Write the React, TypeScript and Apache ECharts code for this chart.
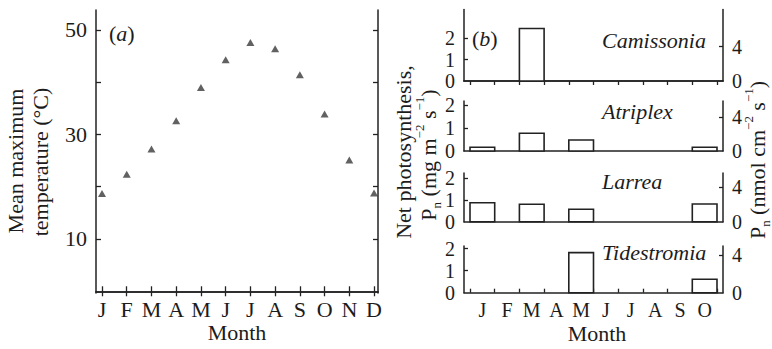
import React, { useEffect, useRef } from 'react';
import * as echarts from 'echarts';

// ---------- data ----------
const monthsA = ['J', 'F', 'M', 'A', 'M', 'J', 'J', 'A', 'S', 'O', 'N', 'D'];
const monthNumsA = [1, 2, 3, 4, 5, 6, 7, 8, 9, 10, 11, 12];
const tempMax = [18.7, 22.4, 27.2, 32.6, 39.0, 44.3, 47.6, 46.4, 41.4, 33.9, 25.1, 18.8];
const tempTicks = [10, 20, 30, 40, 50];
const tempLabels = [10, 30, 50];

const monthsB = ['J', 'F', 'M', 'A', 'M', 'J', 'J', 'A', 'S', 'O'];
const monthNumsB = [1, 2, 3, 4, 5, 6, 7, 8, 9, 10];
const monthBounds = [0.5, 1.5, 2.5, 3.5, 4.5, 5.5, 6.5, 7.5, 8.5, 9.5, 10.5];
const species = ['Camissonia', 'Atriplex', 'Larrea', 'Tidestromia'];
const camissonia = [[3, 2.47]];
const atriplex = [[1, 0.16], [3, 0.77], [5, 0.48], [10, 0.16]];
const larrea = [[1, 0.87], [3, 0.8], [5, 0.57], [10, 0.81]];
const tidestromia = [[5, 1.82], [10, 0.61]];
const pnTicks = [1, 2];
const pnOuterLabels = [0, 2];
const pnMidLabels = [1];
const nmolTicks = [4];
const nmolLabels = [0, 4];

// ---------- layout ----------
const FONT = '"Liberation Serif", "DejaVu Serif", serif';
const INK = '#1c1c1c';
const LINE = '#222';
const FS = 22;
const FSB = 20;

const subLayout = [
  { top: 9.5, bottom: 81, leftMax: 3.36, rightMax: 8.34 },
  { top: 101, bottom: 151, leftMax: 2.17, rightMax: 5.93 },
  { top: 173, bottom: 221.7, leftMax: 2.23, rightMax: 5.66 },
  { top: 246, bottom: 292.7, leftMax: 2.12, rightMax: 4.95 },
];
const bLeft = 464;
const bRight = 723;

const subData = [camissonia, atriplex, larrea, tidestromia];

export default function App() {
  const ref = useRef<HTMLDivElement>(null);

  useEffect(() => {
    if (!ref.current) return;
    const chart = echarts.init(ref.current, undefined, { renderer: 'svg' });

    const axisLineStyle = { show: true, lineStyle: { color: LINE, width: 1.5 } };
    const labelStyle = {
      color: INK, fontFamily: FONT, fontSize: FS,
      showMinLabel: true, showMaxLabel: true, hideOverlap: false,
    };
    const yLabelStyle = { ...labelStyle, lineHeight: 17 };
    const bLabelStyle = { ...labelStyle, fontSize: FSB };
    const byLabelStyle = { ...bLabelStyle, lineHeight: 16 };

    const grids: any[] = [
      { left: 96, top: 10, width: 282, height: 283 },
    ];
    const xAxes: any[] = [
      {
        type: 'value', gridIndex: 0, position: 'bottom', min: 0.757, max: 12.16,
        axisLine: axisLineStyle, splitLine: { show: false },
        axisTick: { show: true, inside: true, length: 5, customValues: monthNumsA, lineStyle: { color: LINE, width: 1.3 } },
        axisLabel: { ...labelStyle, margin: 5, customValues: monthNumsA, formatter: (v: number) => monthsA[Math.round(v) - 1] },
      },
      {
        type: 'value', gridIndex: 0, position: 'top', min: 0.757, max: 12.16,
        axisLine: axisLineStyle, splitLine: { show: false },
        axisTick: { show: true, inside: true, length: 5, customValues: monthNumsA, lineStyle: { color: LINE, width: 1.3 } },
        axisLabel: { show: false },
      },
    ];
    const yAxes: any[] = [
      {
        type: 'value', gridIndex: 0, position: 'left', min: -0.33, max: 53.8,
        axisLine: axisLineStyle, splitLine: { show: false },
        axisTick: { show: true, inside: true, length: 5, customValues: tempTicks, lineStyle: { color: LINE, width: 1.3 } },
        axisLabel: { ...yLabelStyle, margin: 9, customValues: tempLabels },
      },
      {
        type: 'value', gridIndex: 0, position: 'right', min: -0.33, max: 53.8,
        axisLine: axisLineStyle, splitLine: { show: false },
        axisTick: { show: true, inside: true, length: 5, customValues: tempTicks, lineStyle: { color: LINE, width: 1.3 } },
        axisLabel: { show: false },
      },
    ];
    const series: any[] = [
      {
        type: 'scatter', xAxisIndex: 0, yAxisIndex: 0,
        data: monthNumsA.map((m, i) => [m, tempMax[i]]),
        symbol: 'triangle', symbolSize: [8, 7],
        itemStyle: { color: '#3a3a3a' },
      },
    ];

    subLayout.forEach((s, i) => {
      const gi = grids.length;
      grids.push({ left: bLeft, top: s.top, width: bRight - bLeft, height: s.bottom - s.top });
      const isLast = i === subLayout.length - 1;
      const xi = xAxes.length;
      xAxes.push({
        type: 'value', gridIndex: gi, position: 'bottom', min: 0.257, max: 10.743,
        axisLine: axisLineStyle, splitLine: { show: false },
        axisTick: { show: isLast, inside: true, length: 4, customValues: monthBounds, lineStyle: { color: LINE, width: 1.3 } },
        axisLabel: isLast
          ? { ...bLabelStyle, margin: 7, customValues: monthNumsB, formatter: (v: number) => monthsB[Math.round(v) - 1] }
          : { show: false },
      });
      if (i === 0) {
        xAxes.push({
          type: 'value', gridIndex: gi, position: 'top', min: 0.257, max: 10.743,
          axisLine: axisLineStyle, splitLine: { show: false },
          axisTick: { show: true, inside: true, length: 4, customValues: monthBounds, lineStyle: { color: LINE, width: 1.3 } },
          axisLabel: { show: false },
        });
      }
      const yi = yAxes.length;
      yAxes.push({
        type: 'value', gridIndex: gi, position: 'left', min: 0, max: s.leftMax,
        axisLine: axisLineStyle, splitLine: { show: false },
        axisTick: { show: true, inside: true, length: 4, customValues: pnTicks, lineStyle: { color: LINE, width: 1.3 } },
        axisLabel: { ...byLabelStyle, margin: 9, customValues: pnOuterLabels },
      });
      // label-only companion axis for the middle tick label (avoids automatic hiding)
      yAxes.push({
        type: 'value', gridIndex: gi, position: 'left', offset: 0, min: 0, max: s.leftMax,
        axisLine: { show: false }, splitLine: { show: false }, axisTick: { show: false },
        axisLabel: { ...byLabelStyle, margin: 9, customValues: pnMidLabels },
      });
      yAxes.push({
        type: 'value', gridIndex: gi, position: 'right', min: 0, max: s.rightMax,
        axisLine: axisLineStyle, splitLine: { show: false },
        axisTick: { show: true, inside: true, length: 4, customValues: nmolTicks, lineStyle: { color: LINE, width: 1.3 } },
        axisLabel: { ...byLabelStyle, margin: 9, customValues: nmolLabels },
      });
      series.push({
        type: 'custom', coordinateSystem: 'cartesian2d', xAxisIndex: xi, yAxisIndex: yi,
        data: subData[i],
        renderItem: (params: any, api: any) => {
          const m = api.value(0);
          const v = api.value(1);
          const p0 = api.coord([m - 0.5, 0]);
          const p1 = api.coord([m + 0.5, v]);
          return {
            type: 'rect',
            shape: { x: p0[0], y: p1[1], width: p1[0] - p0[0], height: p0[1] - p1[1] },
            style: { fill: '#fff', stroke: LINE, lineWidth: 1.6 },
          };
        },
      });
    });

    const sub = { fontSize: 13, lineHeight: 13, verticalAlign: 'bottom', fontFamily: FONT, fill: INK };
    const sup = { fontSize: 13, lineHeight: 13, verticalAlign: 'top', fontFamily: FONT, fill: INK };
    const norm = { fontSize: FS, lineHeight: 30, fontFamily: FONT, fill: INK };
    const ital = { fontSize: FS, lineHeight: 30, fontFamily: FONT, fontStyle: 'italic', fill: INK };
    const rich = { n: norm, i: ital, sub, sup };

    const rotText = (x: number, y: number, text: string) => ({
      type: 'text', x, y, rotation: Math.PI / 2,
      style: { text, align: 'center', verticalAlign: 'middle', rich, fontFamily: FONT, fontSize: FS, fill: INK },
    });

    const graphic: any[] = [
      rotText(15, 161, '{n|Mean maximum}'),
      rotText(40, 162, '{n|temperature (°C)}'),
      rotText(403, 152, '{n|Net photosynthesis,}'),
      rotText(428, 155, '{n|P}{sub|n}{n| (mg m}{sup|−2}{n| s}{sup|−1}{n|)}'),
      rotText(757, 160, '{n|P}{sub|n}{n| (nmol cm}{sup|−2}{n| s}{sup|−1}{n|)}'),
      {
        type: 'text', x: 237, y: 332,
        style: { text: 'Month', align: 'center', verticalAlign: 'middle', fontFamily: FONT, fontSize: FS, fill: INK },
      },
      {
        type: 'text', x: 597, y: 333,
        style: { text: 'Month', align: 'center', verticalAlign: 'middle', fontFamily: FONT, fontSize: FS, fill: INK },
      },
      {
        type: 'text', x: 109, y: 33,
        style: { text: '{n|(}{i|a}{n|)}', rich, align: 'left', verticalAlign: 'middle', fontFamily: FONT, fontSize: FS, fill: INK },
      },
      {
        type: 'text', x: 472, y: 38,
        style: { text: '{n|(}{i|b}{n|)}', rich, align: 'left', verticalAlign: 'middle', fontFamily: FONT, fontSize: FS, fill: INK },
      },
      ...species.map((name, i) => ({
        type: 'text', x: 602, y: [40, 111, 181, 252][i],
        style: { text: name, align: 'left', verticalAlign: 'middle', fontFamily: FONT, fontSize: FS, fontStyle: 'italic', fill: INK },
      })),
    ];

    chart.setOption({
      animation: false,
      backgroundColor: '#fff',
      grid: grids,
      xAxis: xAxes,
      yAxis: yAxes,
      series,
      graphic,
    });

    return () => chart.dispose();
  }, []);

  return (
    <div
      ref={ref}
      style={{ position: 'absolute', left: 0, top: 0, width: 772, height: 349, background: '#fff' }}
    />
  );
}
